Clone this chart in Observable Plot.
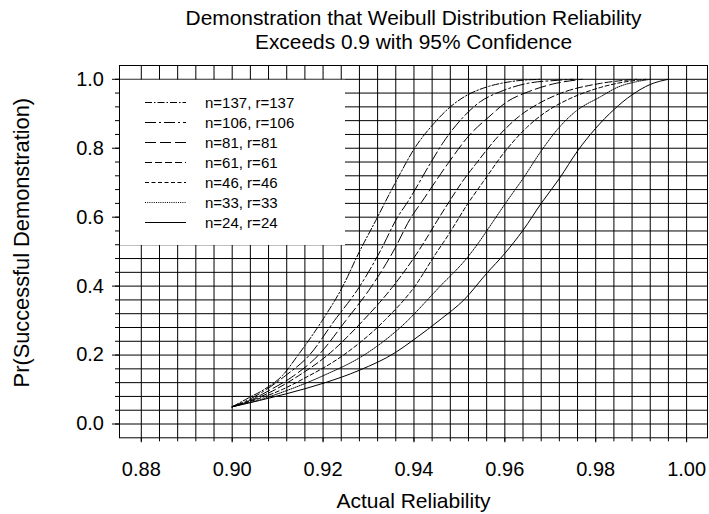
<!DOCTYPE html>
<html>
<head>
<meta charset="utf-8">
<script src="https://cdn.jsdelivr.net/npm/d3@7"></script>
<script src="https://cdn.jsdelivr.net/npm/@observablehq/plot@0.6"></script>
<style>
  html, body { margin: 0; padding: 0; background: #fff; }
  #chart { width: 709px; height: 514px; }
</style>
</head>
<body>
<div id="chart"></div>
<script>
// ---------- data ----------
const titleLines = ["Demonstration that Weibull Distribution Reliability", "Exceeds 0.9 with 95% Confidence"];
const xLabel = "Actual Reliability";
const yLabel = "Pr(Successful Demonstration)";

const seriesNames = ["n=137, r=137", "n=106, r=106", "n=81, r=81", "n=61, r=61", "n=46, r=46", "n=33, r=33", "n=24, r=24"];

const x137 = [0.900, 0.9035, 0.907, 0.911, 0.9145, 0.9198, 0.9242, 0.928, 0.9319, 0.9345, 0.937, 0.9399, 0.9444, 0.948, 0.9517, 0.9561, 0.9612, 0.9678];
const y137 = [0.050, 0.075, 0.100, 0.140, 0.200, 0.300, 0.396, 0.500, 0.598, 0.665, 0.727, 0.795, 0.872, 0.920, 0.954, 0.978, 0.993, 1.000];

const x106 = [0.900, 0.904, 0.9075, 0.9117, 0.917, 0.9225, 0.9279, 0.9326, 0.9363, 0.9387, 0.9436, 0.9466, 0.9509, 0.9546, 0.959, 0.9649, 0.9715, 0.975];
const y106 = [0.050, 0.073, 0.100, 0.140, 0.200, 0.300, 0.396, 0.502, 0.598, 0.646, 0.756, 0.820, 0.891, 0.935, 0.964, 0.988, 0.997, 1.000];

const x81 = [0.900, 0.9045, 0.9085, 0.913, 0.919, 0.925, 0.9305, 0.9355, 0.9393, 0.9418, 0.9475, 0.9522, 0.9565, 0.9605, 0.9652, 0.9705, 0.977];
const y81 = [0.050, 0.072, 0.100, 0.135, 0.200, 0.300, 0.396, 0.502, 0.598, 0.646, 0.756, 0.838, 0.891, 0.935, 0.964, 0.986, 1.000];

const x61 = [0.900, 0.905, 0.9095, 0.914, 0.921, 0.9288, 0.9352, 0.941, 0.9424, 0.9455, 0.9478, 0.9507, 0.9537, 0.9585, 0.963, 0.9675, 0.9722, 0.981, 0.989];
const y61 = [0.050, 0.072, 0.100, 0.135, 0.200, 0.300, 0.396, 0.502, 0.531, 0.598, 0.646, 0.704, 0.756, 0.834, 0.891, 0.930, 0.959, 0.988, 1.000];

const x46 = [0.900, 0.9055, 0.911, 0.9155, 0.9245, 0.9335, 0.940, 0.9452, 0.9467, 0.9522, 0.9553, 0.960, 0.9648, 0.969, 0.974, 0.979, 0.985, 0.991];
const y46 = [0.050, 0.072, 0.100, 0.130, 0.200, 0.300, 0.396, 0.502, 0.531, 0.646, 0.704, 0.790, 0.860, 0.905, 0.942, 0.968, 0.989, 1.000];

const x33 = [0.900, 0.906, 0.912, 0.920, 0.929, 0.937, 0.9455, 0.952, 0.9545, 0.956, 0.9605, 0.964, 0.968, 0.9718, 0.9755, 0.981, 0.985, 0.989, 0.992];
const y33 = [0.050, 0.070, 0.097, 0.140, 0.200, 0.280, 0.396, 0.487, 0.531, 0.560, 0.647, 0.712, 0.792, 0.858, 0.906, 0.949, 0.978, 0.993, 1.000];

const x24 = [0.900, 0.912, 0.920, 0.928, 0.936, 0.940, 0.946, 0.951, 0.956, 0.960, 0.964, 0.968, 0.972, 0.976, 0.980, 0.984, 0.988, 0.992, 0.996];
const y24 = [0.050, 0.088, 0.118, 0.156, 0.208, 0.245, 0.305, 0.360, 0.437, 0.495, 0.562, 0.640, 0.712, 0.792, 0.858, 0.912, 0.955, 0.985, 1.000];

const xTickLabels = [0.88, 0.90, 0.92, 0.94, 0.96, 0.98, 1.00];
const yTickLabels = [0.0, 0.2, 0.4, 0.6, 0.8, 1.0];

// ---------- build ----------
const seriesX = [x137, x106, x81, x61, x46, x33, x24];
const seriesY = [y137, y106, y81, y61, y46, y33, y24];
const dashes = ["7,2,1.5,2", "11,3,2,3", "11,4", "7,3", "4,2.5", "1,1.2", null];

const rows = seriesNames.map((name, i) => seriesX[i].map((x, j) => ({series: name, x, y: seriesY[i][j]})));

const xGrid = d3.range(0, 31).map(i => +(0.88 + i * 0.004).toFixed(3));
const yGrid = d3.range(0, 26).map(i => +(i * 0.04).toFixed(2));

const font = "'Liberation Sans', Arial, Helvetica, sans-serif";

const marks = [
  Plot.ruleX(xGrid, {stroke: "#000", strokeWidth: 1}),
  Plot.ruleY(yGrid, {stroke: "#000", strokeWidth: 1}),
  Plot.axisX(xGrid, {anchor: "bottom", tickSize: 4, text: null, label: null}),
  Plot.axisX(xTickLabels, {anchor: "bottom", tickSize: 5, tickPadding: 18.5, tickFormat: d3.format(".2f"), fontSize: 20, label: null}),
  Plot.axisY(yGrid, {anchor: "left", tickSize: 4, text: null, label: null}),
  Plot.axisY(yTickLabels, {anchor: "left", tickSize: 7, tickPadding: 8.5, tickFormat: d3.format(".1f"), fontSize: 20, label: null}),
  ...rows.map((r, i) => Plot.line(r, {x: "x", y: "y", stroke: "#000", strokeWidth: 1, strokeDasharray: dashes[i], curve: "monotone-x"})),
  Plot.frame({stroke: "#000", strokeWidth: 1}),
  Plot.text([titleLines[0]], {frameAnchor: "top", lineAnchor: "middle", textAnchor: "middle", dy: -47, fontSize: 20.9}),
  Plot.text([titleLines[1]], {frameAnchor: "top", lineAnchor: "middle", textAnchor: "middle", dy: -23, fontSize: 20.9}),
  Plot.text([xLabel], {frameAnchor: "bottom", lineAnchor: "middle", textAnchor: "middle", dy: 63, fontSize: 21}),
  Plot.text([yLabel], {frameAnchor: "left", lineAnchor: "middle", textAnchor: "middle", dx: -97, dy: -9, rotate: -90, fontSize: 21.8})
];

const chart = Plot.plot({
  width: 709,
  height: 514,
  marginLeft: 119,
  marginRight: 2,
  marginTop: 65,
  marginBottom: 76.7,
  x: {domain: [0.8752, 1.0046], label: null},
  y: {domain: [-0.04, 1.04], label: null},
  style: {fontFamily: font, fontSize: "20px", background: "#fff", color: "#000", overflow: "visible"},
  marks
});

document.getElementById("chart").appendChild(chart);

// ---------- legend (white box over the grid, upper-left of the frame) ----------
const svg = d3.select(chart);
const xs = chart.scale("x"), ys = chart.scale("y");
const left = xs.range[0];
const boxRight = 345;
const boxTop = ys.apply(1.0) + 1;
const boxBottom = 245;
const lg = svg.append("g").attr("text-anchor", "start");
const firstLine = chart.querySelector("g[aria-label='line']");
chart.insertBefore(lg.node(), firstLine);
lg.append("rect")
  .attr("x", left + 0.5).attr("y", boxTop)
  .attr("width", boxRight - left - 0.5).attr("height", boxBottom - boxTop)
  .attr("fill", "#fff");
seriesNames.forEach((name, i) => {
  const yy = 102.5 + i * 20;
  lg.append("line")
    .attr("x1", 145).attr("x2", 186).attr("y1", yy).attr("y2", yy)
    .attr("stroke", "#000").attr("stroke-width", 1)
    .attr("stroke-dasharray", dashes[i]);
  lg.append("text")
    .attr("x", 205).attr("y", yy).attr("dy", "0.35em")
    .attr("text-anchor", "start")
    .attr("font-size", 15).attr("font-family", font).attr("fill", "#000")
    .text(name);
});
</script>
</body>
</html>
